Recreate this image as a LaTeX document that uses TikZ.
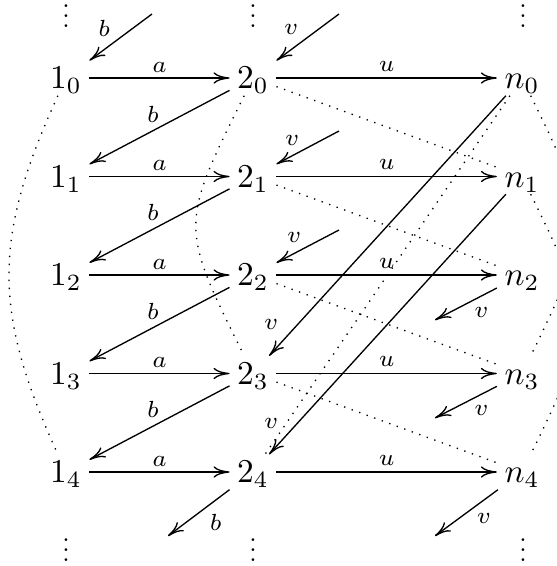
\documentclass[tikz,border=0pt]{standalone}
\usetikzlibrary{arrows.meta}
\newcommand{\myvdots}{\vbox{\fontsize{7.5}{9}\selectfont\baselineskip3pt\lineskiplimit0pt\hbox{.}\hbox{.}\hbox{.}}}
\begin{document}
\begin{tikzpicture}[x=0.3pt,y=-0.3pt,
  obj/.style={inner xsep=2.1pt, inner ysep=1.9pt, text height=6.44pt, text depth=0pt},
  dotsnode/.style={inner sep=0pt, anchor=base},
  lbl/.style={font=\scriptsize, inner sep=0pt},
  arr/.style={-{To[length=4.8pt,width=3.4pt]}, line width=0.4pt},
  idf/.style={dotted, line width=0.4pt},
]
\useasboundingbox (0,0) rectangle (557,566);
\clip (0,0) rectangle (557,566);
% objects
\foreach \i/\y in {0/78,1/176.5,2/275,3/373.5,4/472}{
  \node[obj] (o\i) at (66,\y) {$1_{\i}$};
  \node[obj] (t\i) at (253,\y) {$2_{\i}$};
  \node[obj] (n\i) at (522,\y) {$n_{\i}$};
}
% vertical dots
\node[dotsnode] (dt1) at (66,27.4) {\myvdots};
\node[dotsnode] (dt2) at (253,27.4) {\myvdots};
\node[dotsnode] (dt3) at (523,27.4) {\myvdots};
\node[dotsnode] (db1) at (66,561.4) {\myvdots};
\node[dotsnode] (db2) at (253,561.4) {\myvdots};
\node[dotsnode] (db3) at (523,561.4) {\myvdots};
% free ends
\coordinate (bt) at (152,14);
\coordinate (vt0) at (339,14);
\coordinate (vt1) at (339,131);
\coordinate (vt2) at (339,230);
\coordinate (vo2) at (435,320);
\coordinate (vo3) at (435,418);
\coordinate (vo4) at (435,536);
\coordinate (bo4) at (168,536);
% a and u arrows
\foreach \i in {0,...,4}{
  \draw[arr] (o\i) -- node[lbl, midway, shift={(0,-11)}] {$a$} (t\i);
  \draw[arr] (t\i) -- node[lbl, midway, shift={(0,-12)}] {$u$} (n\i);
}
% b arrows
\foreach \i/\j in {0/1,1/2,2/3,3/4}{
  \draw[arr] (t\i) -- node[lbl, midway, shift={(-6.5,-13)}] {$b$} (o\j);
}
\draw[arr] (bt) -- node[lbl, midway, shift={(-16.5,-9)}] {$b$} (o0);
\draw[arr] (t4) -- node[lbl, midway, shift={(17,10)}] {$b$} (bo4);
% v arrows
\draw[arr] (vt0) -- node[lbl, midway, shift={(-16.5,-8)}] {$v$} (t0);
\draw[arr] (vt1) -- node[lbl, midway, shift={(-15.5,-7.5)}] {$v$} (t1);
\draw[arr] (vt2) -- node[lbl, midway, shift={(-13.5,-8.5)}] {$v$} (t2);
\draw[arr] (n0) -- node[lbl, pos=0.93, shift={(-14.6,-12.9)}] {$v$} (t3);
\draw[arr] (n1) -- node[lbl, pos=0.93, shift={(-14.6,-12.9)}] {$v$} (t4);
\draw[arr] (n2) -- node[lbl, midway, shift={(15.5,8.5)}] {$v$} (vo2);
\draw[arr] (n3) -- node[lbl, midway, shift={(15.5,8.5)}] {$v$} (vo3);
\draw[arr] (n4) -- node[lbl, midway, shift={(17.5,6)}] {$v$} (vo4);
% dotted identifications
\foreach \i/\j in {0/1,1/2,2/3,3/4}{
  \draw[idf] (t\i) -- (n\j);
}
\draw[idf] (n0) -- (t4);
\draw[idf] (o0) .. controls (-7.3,238) and (-7.3,312) .. (o4);
\draw[idf] (t0) .. controls (179.7,225) and (179.7,226.5) .. (t3);
\draw[idf] (n0) .. controls (592,220) and (592,231.5) .. (n3);
\draw[idf] (n1) .. controls (592,318.5) and (592,330) .. (n4);
\end{tikzpicture}
\end{document}
